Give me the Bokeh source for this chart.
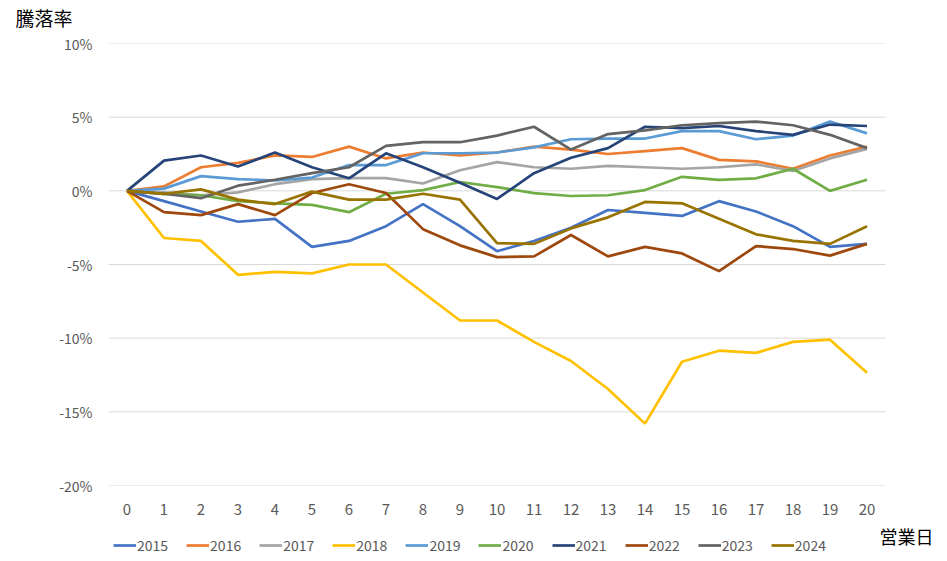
from bokeh.plotting import figure
from bokeh.layouts import column
from bokeh.models import Legend, LegendItem, FixedTicker, PrintfTickFormatter, Range1d, Label
from bokeh.embed import file_html
from bokeh.resources import INLINE

days = list(range(21))
years = ["2015", "2016", "2017", "2018", "2019", "2020", "2021", "2022", "2023", "2024"]

s2015 = [0, -0.7, -1.4, -2.1, -1.9, -3.8, -3.4, -2.4, -0.9, -2.4, -4.1, -3.4, -2.5, -1.3, -1.5, -1.7, -0.7, -1.4, -2.4, -3.8, -3.6]
s2016 = [0, 0.3, 1.6, 1.9, 2.4, 2.3, 3.0, 2.2, 2.6, 2.4, 2.6, 3.0, 2.8, 2.5, 2.7, 2.9, 2.1, 2.0, 1.5, 2.4, 3.0]
s2017 = [0, -0.1, -0.3, -0.1, 0.45, 0.8, 0.86, 0.86, 0.5, 1.4, 1.95, 1.6, 1.5, 1.7, 1.6, 1.5, 1.6, 1.8, 1.35, 2.2, 2.85]
s2018 = [0, -3.2, -3.4, -5.7, -5.5, -5.6, -5.0, -5.0, -6.9, -8.8, -8.8, -10.25, -11.55, -13.45, -15.8, -11.6, -10.85, -11.0, -10.25, -10.1, -12.35]
s2019 = [0, 0.15, 1.0, 0.8, 0.7, 0.9, 1.75, 1.75, 2.55, 2.55, 2.6, 2.95, 3.5, 3.55, 3.55, 4.05, 4.05, 3.5, 3.75, 4.7, 3.9]
s2020 = [0, -0.2, -0.3, -0.7, -0.85, -0.95, -1.45, -0.2, 0.05, 0.6, 0.25, -0.15, -0.35, -0.3, 0.05, 0.95, 0.75, 0.85, 1.5, 0.0, 0.75]
s2021 = [0, 2.05, 2.4, 1.65, 2.6, 1.6, 0.85, 2.55, 1.6, 0.55, -0.55, 1.2, 2.25, 2.9, 4.35, 4.25, 4.4, 4.05, 3.8, 4.5, 4.4]
s2022 = [0, -1.45, -1.65, -0.9, -1.65, -0.15, 0.45, -0.15, -2.6, -3.7, -4.5, -4.45, -3.0, -4.45, -3.8, -4.25, -5.45, -3.75, -3.95, -4.4, -3.6]
s2023 = [0, -0.2, -0.5, 0.35, 0.75, 1.2, 1.6, 3.05, 3.3, 3.3, 3.75, 4.35, 2.8, 3.85, 4.1, 4.45, 4.6, 4.7, 4.45, 3.8, 2.9]
s2024 = [0, -0.2, 0.1, -0.6, -0.9, -0.05, -0.6, -0.6, -0.2, -0.6, -3.55, -3.6, -2.55, -1.8, -0.75, -0.85, -1.9, -2.95, -3.4, -3.6, -2.4]

series = [s2015, s2016, s2017, s2018, s2019, s2020, s2021, s2022, s2023, s2024]
colors = ["#4472C4", "#ED7D31", "#A5A5A5", "#FFC000", "#5B9BD5",
          "#70AD47", "#264478", "#9E480E", "#636363", "#997300"]

y_ticks = [-20, -15, -10, -5, 0, 5, 10]
x_lo, x_hi = -0.5, 20.5      # extent of the plot area (grid lines)
y_lo, y_hi = -20, 10

FONT = "Noto Sans CJK JP"
LW = 2.7


def bare(fig):
    fig.outline_line_color = None
    fig.xgrid.grid_line_color = None
    fig.ygrid.grid_line_color = None
    fig.background_fill_color = "white"
    fig.border_fill_color = "white"


# ---- title strip on top ----
t = figure(width=947, height=32, output_backend="svg", toolbar_location=None,
           x_range=Range1d(0, 1), y_range=Range1d(0, 1),
           x_axis_location=None, y_axis_location=None,
           min_border_left=108, min_border_right=0, min_border_top=31, min_border_bottom=0)
bare(t)
t.title.text = "騰落率"
t.title.align = "left"
t.title.offset = -93
t.title.vertical_align = "middle"
t.title.standoff = 0
t.title.text_font = FONT
t.title.text_font_size = "19px"
t.title.text_font_style = "normal"
t.title.text_color = "black"

# ---- main chart (frame runs to the right edge; grid lines stop at x_hi) ----
p = figure(width=947, height=490, output_backend="svg", toolbar_location=None,
           x_range=Range1d(x_lo, x_lo + (947 - 108) / 37.0), y_range=Range1d(y_lo, y_hi),
           min_border_left=108, min_border_right=0, min_border_top=11, min_border_bottom=37)
p.outline_line_color = None
p.background_fill_color = "white"
p.border_fill_color = "white"
p.xgrid.grid_line_color = None
p.ygrid.grid_line_color = None
p.multi_line(xs=[[x_lo, x_hi] for _ in y_ticks], ys=[[v, v] for v in y_ticks],
             line_color="#D9D9D9", line_width=1)

p.xaxis.ticker = FixedTicker(ticks=days)
p.yaxis.ticker = FixedTicker(ticks=y_ticks)
p.yaxis.formatter = PrintfTickFormatter(format="%d%%")
for ax in (p.xaxis, p.yaxis):
    ax.axis_line_color = None
    ax.major_tick_line_color = None
    ax.minor_tick_line_color = None
    ax.major_tick_out = 0
    ax.major_tick_in = 0
    ax.major_label_text_color = "#595959"
    ax.major_label_text_font = FONT
p.xaxis.major_label_text_font_size = "15px"
p.yaxis.major_label_text_font_size = "14px"
p.xaxis.major_label_standoff = 18
p.yaxis.major_label_standoff = 16

for vals, col in zip(series, colors):
    p.line(days, vals, line_color=col, line_width=LW)

# ---- legend strip below (frame aligned with main frame: 108..947) ----
q = figure(width=947, height=39, output_backend="svg", toolbar_location=None,
           x_range=Range1d(108, 947), y_range=Range1d(100, 139),
           x_axis_location=None, y_axis_location=None,
           min_border_left=108, min_border_right=0, min_border_top=0, min_border_bottom=0)
bare(q)

items = []
for name, vals, col in zip(years, series, colors):
    # same series, lying outside this strip's visible range: only the legend entry shows
    r = q.line(days, vals, line_color=col, line_width=LW)
    items.append(LegendItem(label=name, renderers=[r]))

legend = Legend(items=items, orientation="horizontal", location=(5, 6),
                glyph_width=23, glyph_height=12, label_standoff=1, spacing=18,
                padding=0, margin=0, border_line_color=None, background_fill_alpha=0,
                label_text_font=FONT, label_text_font_size="14px", label_text_color="#595959")
q.add_layout(legend, "center")

q.add_layout(Label(x=879, y=125.5, text="営業日", text_font=FONT, text_font_size="18px",
                   text_color="black", text_baseline="middle", text_align="left"))

open("out.html", "w").write(file_html(column(t, p, q, spacing=0), INLINE))
